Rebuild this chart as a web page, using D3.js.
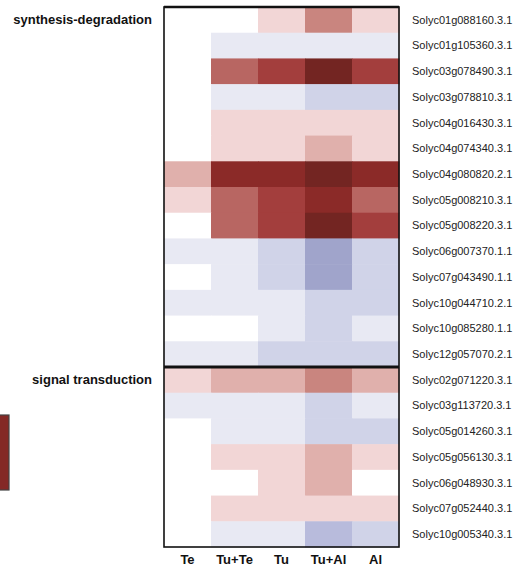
<!DOCTYPE html>
<html><head><meta charset="utf-8">
<script src="https://cdn.jsdelivr.net/npm/d3@7"></script>
<style>body{margin:0;background:#fff;}svg{display:block;}</style>
</head><body>
<svg id="chart" width="519" height="567"></svg>
<script>
const conditions = ["Te", "Tu+Te", "Tu", "Tu+Al", "Al"];
const genes = [
  "Solyc01g088160.3.1","Solyc01g105360.3.1","Solyc03g078490.3.1","Solyc03g078810.3.1",
  "Solyc04g016430.3.1","Solyc04g074340.3.1","Solyc04g080820.2.1","Solyc05g008210.3.1",
  "Solyc05g008220.3.1","Solyc06g007370.1.1","Solyc07g043490.1.1","Solyc10g044710.2.1",
  "Solyc10g085280.1.1","Solyc12g057070.2.1",
  "Solyc02g071220.3.1","Solyc03g113720.3.1","Solyc05g014260.3.1","Solyc05g056130.3.1",
  "Solyc06g048930.3.1","Solyc07g052440.3.1","Solyc10g005340.3.1"
];
const groups = ["synthesis-degradation", "signal transduction"];
const groupSizes = [14, 7];
// values per gene: Te, Tu+Te, Tu, Tu+Al, Al
const values = [
  [0, 0, 0.5, 1.5, 0.5],
  [0, -0.5, -0.5, -0.5, -0.5],
  [0, 2, 3, 5, 3],
  [0, -0.5, -0.5, -1, -1],
  [0, 0.5, 0.5, 0.5, 0.5],
  [0, 0.5, 0.5, 1, 0.5],
  [1, 4, 4, 5, 4],
  [0.5, 2, 3, 4, 2],
  [0, 2, 3, 5, 3],
  [-0.5, -0.5, -1, -3, -1],
  [0, -0.5, -1, -3, -1],
  [-0.5, -0.5, -0.5, -1, -1],
  [0, 0, -0.5, -1, -0.5],
  [-0.5, -0.5, -1, -1, -1],
  [0.5, 1, 1, 1.5, 1],
  [-0.5, -0.5, -0.5, -1, -0.5],
  [0, -0.5, -0.5, -1, -1],
  [0, 0.5, 0.5, 1, 0.5],
  [0, 0, 0.5, 1, 0],
  [0, 0.5, 0.5, 0.5, 0.5],
  [0, -0.5, -0.5, -2, -1]
];
const colorStops = [-3, -2, -1, -0.5, 0, 0.5, 1, 1.5, 2, 3, 4, 5];
const colorRange = ["#a0a4cb","#b8bbdc","#d0d3e8","#e8e9f3","#ffffff","#f2d6d6","#e0b0ac","#c9857f","#b86662","#a33e3d","#8b2a28","#732522"];

const svg = d3.select("#chart");
const color = d3.scaleLinear().domain(colorStops).range(colorRange);
const x = d3.scaleBand().domain(conditions).range([164, 399]);
const y = d3.scaleBand().domain(genes).range([7, 547]);

const cells = [];
values.forEach((row, i) => row.forEach((v, j) => cells.push({g: genes[i], c: conditions[j], v})));
svg.append("g").selectAll("rect").data(cells).join("rect")
  .attr("x", d => x(d.c)).attr("y", d => y(d.g))
  .attr("width", x.bandwidth() + 0.5).attr("height", y.bandwidth() + 0.5)
  .attr("fill", d => color(d.v));

// border
svg.append("rect").attr("x", x.range()[0]).attr("y", y.range()[0])
  .attr("width", x.range()[1] - x.range()[0]).attr("height", y.range()[1] - y.range()[0])
  .attr("fill", "none").attr("stroke", "#111").attr("stroke-width", 1.6);
svg.append("line").attr("x1", x.range()[0]).attr("x2", x.range()[1])
  .attr("y1", y.range()[0]).attr("y2", y.range()[0])
  .attr("stroke", "#111").attr("stroke-width", 2.6);

// group separators and labels
let idx = 0;
groups.forEach((gname, gi) => {
  const firstGene = genes[idx];
  if (gi > 0) {
    svg.append("line").attr("x1", x.range()[0]).attr("x2", x.range()[1])
      .attr("y1", y(firstGene)).attr("y2", y(firstGene))
      .attr("stroke", "#111").attr("stroke-width", 3);
  }
  svg.append("text").attr("x", 152).attr("y", y(firstGene) + y.bandwidth() / 2)
    .attr("dy", "0.3em")
    .attr("text-anchor", "end").attr("font-family", "Liberation Sans, Arial, sans-serif")
    .attr("font-weight", "bold").attr("font-size", 13).attr("fill", "#111")
    .text(gname);
  idx += groupSizes[gi];
});

// row labels
svg.append("g").selectAll("text").data(genes).join("text")
  .attr("x", 412).attr("y", d => y(d) + y.bandwidth() / 2).attr("dy", "0.35em")
  .attr("font-family", "Liberation Sans, Arial, sans-serif").attr("font-size", 11).attr("fill", "#222")
  .text(d => d);

// column labels
svg.append("g").selectAll("text").data(conditions).join("text")
  .attr("x", d => x(d) + x.bandwidth() / 2).attr("y", 564)
  .attr("text-anchor", "middle").attr("font-family", "Liberation Sans, Arial, sans-serif")
  .attr("font-weight", "bold").attr("font-size", 13).attr("fill", "#111")
  .text(d => d);

// partial color key at left edge
svg.append("rect").attr("x", -20).attr("y", 415).attr("width", 29).attr("height", 75)
  .attr("fill", color(4.3)).attr("stroke", "#444").attr("stroke-width", 1.2);
</script>
</body></html>
